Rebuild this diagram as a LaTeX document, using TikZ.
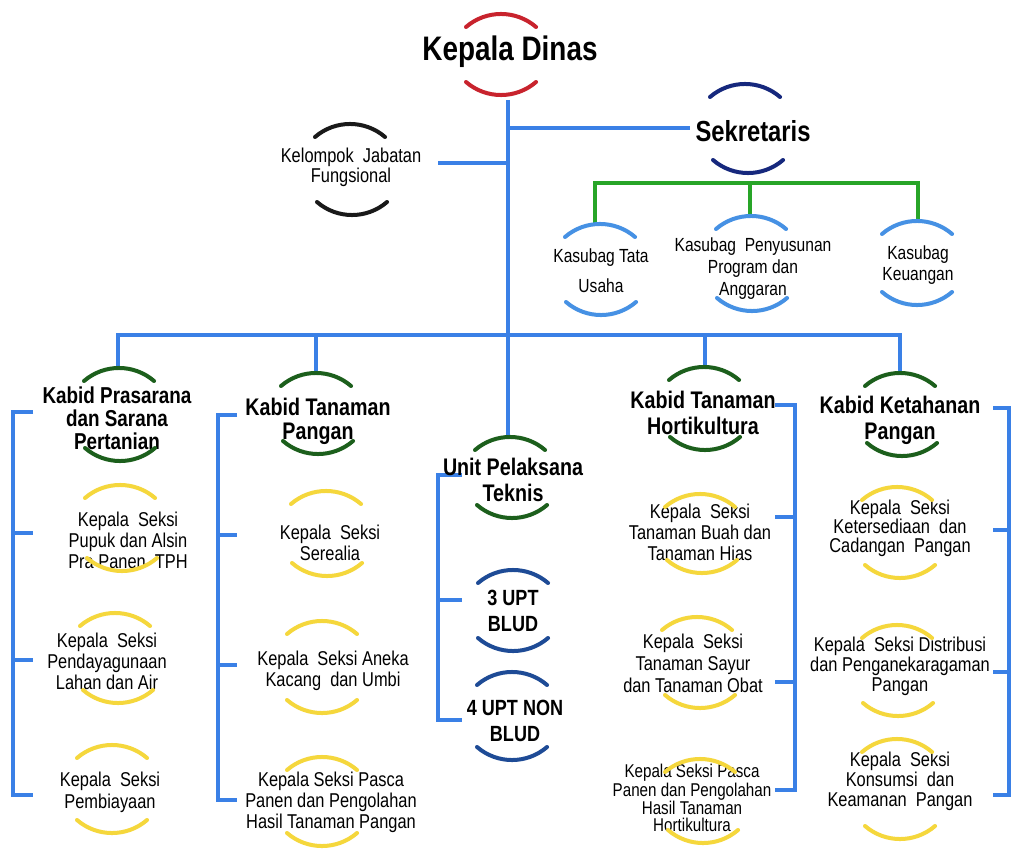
\documentclass[tikz,border=0pt]{standalone}
\usepackage{fontspec}
\setmainfont{Liberation Sans}[FakeStretch=0.82]
\definecolor{linkblue}{RGB}{58,128,230}
\definecolor{linkgreen}{RGB}{40,165,40}
\definecolor{arcred}{RGB}{200,35,45}
\definecolor{arcnavy}{RGB}{22,40,125}
\definecolor{arcblack}{RGB}{25,25,25}
\definecolor{arclight}{RGB}{70,145,228}
\definecolor{arcgreen}{RGB}{28,95,28}
\definecolor{arcyellow}{RGB}{245,215,60}
\definecolor{arcupt}{RGB}{30,75,150}
\tikzset{
  ctop/.pic={\draw[pic actions, line width=4pt, line cap=round] (-35,0) arc[start angle=229.2, end angle=310.8, radius=53.6];},
  cbot/.pic={\draw[pic actions, line width=4pt, line cap=round] (-35,0) arc[start angle=130.8, end angle=49.2, radius=53.6];},
  link/.style={draw=linkblue, line width=4pt},
  glink/.style={draw=linkgreen, line width=4pt},
  bigtitle/.style={font=\bfseries\fontsize{34}{36}\selectfont, inner sep=0pt},
  midtitle/.style={font=\bfseries\fontsize{29}{31}\selectfont, inner sep=0pt},
  head/.style={font=\bfseries\fontsize{24}{#1}\selectfont, align=center, inner sep=0pt},
  head/.default=25,
  sub/.style={font=\fontsize{20}{#1}\selectfont, align=center, inner sep=0pt},
  sub/.default=21,
  small/.style={font=\fontsize{19}{#1}\selectfont, align=center, inner sep=0pt},
  small/.default=20,
  wide/.style={font=\fontsize{20}{#1}\selectfont, align=center, inner sep=0pt},
  upt/.style={font=\bfseries\fontsize{22}{26}\selectfont, align=center, inner sep=0pt},
}
\begin{document}
\begin{tikzpicture}[x=1pt,y=-1pt]
\useasboundingbox (0,0) rectangle (1011,850);
\fill[white] (0,0) rectangle (1011,850);

% ---------- connectors ----------
\coordinate (kdb) at (508,100);
\coordinate (uptt) at (508,437);
\coordinate (sekw) at (690,128);
\coordinate (kjfe) at (438,163);
\coordinate (bar) at (0,335);
\coordinate (k1t) at (118,368);
\coordinate (k2t) at (316,373);
\coordinate (k4t) at (705,368);
\coordinate (k5t) at (900,373);
\draw[link] (kdb) -- (uptt);
\draw[link] (kdb |- sekw) -- (sekw);
\draw[link] (kjfe) -- (kjfe -| kdb);
\draw[link] (k1t) |- (bar -| k5t) -- (k5t);
\draw[link] (k2t) -- (k2t |- bar);
\draw[link] (k4t) -- (k4t |- bar);

\coordinate (gbar) at (0,183);
\coordinate (gt1) at (595,224);
\coordinate (gt2) at (750,216);
\coordinate (gt3) at (918,221);
\draw[glink] (gt1) |- (gbar -| gt3) -- (gt3);
\draw[glink] (gt2) -- (gt2 |- gbar);

% brackets
\draw[link] (33,412) -- (13,412) -- (13,795) -- (33,795);
\draw[link] (13,533) -- (33,533);
\draw[link] (13,660) -- (33,660);

\draw[link] (237,415) -- (218,415) -- (218,800) -- (237,800);
\draw[link] (218,535) -- (237,535);
\draw[link] (218,665) -- (237,665);

\draw[link] (462,475) -- (438,475) -- (438,720) -- (462,720);
\draw[link] (438,600) -- (462,600);

\draw[link] (775,405) -- (795,405) -- (795,790) -- (775,790);
\draw[link] (795,517) -- (775,517);
\draw[link] (795,682) -- (775,682);

\draw[link] (993,408) -- (1009,408) -- (1009,795) -- (993,795);
\draw[link] (1009,530) -- (993,530);
\draw[link] (1009,672) -- (993,672);

% ---------- top ----------
\node[bigtitle] (kd) at (510,52) {Kepala Dinas};
\pic[draw=arcred] at (501,27) {ctop};
\pic[draw=arcred] at (501,82) {cbot};

\node[midtitle] (sek) at (753,131) {Sekretaris};
\pic[draw=arcnavy] at (745,97) {ctop};
\pic[draw=arcnavy] at (748,160) {cbot};

\node[sub=20] (kjf) at (351,167) {Kelompok\ \ Jabatan\\Fungsional};
\pic[draw=arcblack] at (350,137) {ctop};
\pic[draw=arcblack] at (352,202) {cbot};

\node[small=30] (kto) at (601,271) {Kasubag Tata\\Usaha};
\pic[draw=arclight] at (600,237) {ctop};
\pic[draw=arclight] at (601,302) {cbot};

\node[small=22] (kpp) at (753,269) {Kasubag\ \ Penyusunan\\Program dan\\Anggaran};
\pic[draw=arclight] at (751,229) {ctop};
\pic[draw=arclight] at (752,298) {cbot};

\node[small=21] (kk) at (918,265) {Kasubag\\Keuangan};
\pic[draw=arclight] at (917,234) {ctop};
\pic[draw=arclight] at (917,292) {cbot};

% ---------- column 1 ----------
\node[font=\bfseries\fontsize{23}{23}\selectfont, align=center, inner sep=0pt] (k1) at (117,418) {Kabid Prasarana\\dan Sarana\\Pertanian};
\pic[draw=arcgreen] at (119,381) {ctop};
\pic[draw=arcgreen] at (120,448) {cbot};

\node[sub] (s11) at (128,540) {Kepala\ \ Seksi\\Pupuk dan Alsin\\Pra Panen\ \ TPH};
\pic[draw=arcyellow] at (120,498) {ctop};
\pic[draw=arcyellow] at (122,558) {cbot};

\node[sub] (s12) at (107,661) {Kepala\ \ Seksi\\Pendayagunaan\\Lahan dan Air};
\pic[draw=arcyellow] at (115,626) {ctop};
\pic[draw=arcyellow] at (118,690) {cbot};

\node[sub=22] (s13) at (110,792) {Kepala\ \ Seksi\\Pembiayaan};
\pic[draw=arcyellow] at (112,758) {ctop};
\pic[draw=arcyellow] at (112,820) {cbot};

% ---------- column 2 ----------
\node[head=24] (k2) at (318,421) {Kabid Tanaman\\Pangan};
\pic[draw=arcgreen] at (316,386) {ctop};
\pic[draw=arcgreen] at (318,441) {cbot};

\node[sub] (s21) at (330,543) {Kepala\ \ Seksi\\Serealia};
\pic[draw=arcyellow] at (326,504) {ctop};
\pic[draw=arcyellow] at (327,563) {cbot};

\node[sub] (s22) at (333,671) {Kepala\ \ Seksi\ Aneka\\Kacang\ \ dan\ Umbi};
\pic[draw=arcyellow] at (322,634) {ctop};
\pic[draw=arcyellow] at (322,700) {cbot};

\node[sub] (s23) at (331,802) {Kepala Seksi Pasca\\Panen dan Pengolahan\\Hasil Tanaman Pangan};
\pic[draw=arcyellow] at (322,770) {ctop};
\pic[draw=arcyellow] at (322,833) {cbot};

% ---------- column 3 ----------
\node[head=26] (upt) at (513,480) {Unit Pelaksana\\Teknis};
\pic[draw=arcgreen] at (510,450) {ctop};
\pic[draw=arcgreen] at (512,505) {cbot};

\node[upt] (b3) at (513,611) {3 UPT\\BLUD};
\pic[draw=arcupt] at (513,583) {ctop};
\pic[draw=arcupt] at (513,638) {cbot};

\node[upt] (b4) at (515,721) {4 UPT NON\\BLUD};
\pic[draw=arcupt] at (512,685) {ctop};
\pic[draw=arcupt] at (512,747) {cbot};

% ---------- column 4 ----------
\node[head=26] (k4) at (703,413) {Kabid Tanaman\\Hortikultura};
\pic[draw=arcgreen] at (704,380) {ctop};
\pic[draw=arcgreen] at (705,437) {cbot};

\node[sub] (s41) at (700,532) {Kepala\ \ Seksi\\Tanaman Buah dan\\Tanaman Hias};
\pic[draw=arcyellow] at (700,507) {ctop};
\pic[draw=arcyellow] at (702,560) {cbot};

\node[sub=22] (s42) at (693,663) {Kepala\ \ Seksi\\Tanaman Sayur\\dan Tanaman Obat};
\pic[draw=arcyellow] at (697,630) {ctop};
\pic[draw=arcyellow] at (700,695) {cbot};

\node[font=\fontsize{18.5}{17}\selectfont, align=center, inner sep=0pt] (s43) at (692,798) {Kepala Seksi Pasca\\Panen dan Pengolahan\\Hasil Tanaman\\Hortikultura};
\pic[draw=arcyellow] at (700,772) {ctop};
\pic[draw=arcyellow] at (703,830) {cbot};

% ---------- column 5 ----------
\node[head=26] (k5) at (900,420) {Kabid Ketahanan\\Pangan};
\pic[draw=arcgreen] at (900,386) {ctop};
\pic[draw=arcgreen] at (902,443) {cbot};

\node[wide=19] (s51) at (900,528) {Kepala\ \ Seksi\\Ketersediaan\ \ dan\\Cadangan\ \ Pangan};
\pic[draw=arcyellow] at (897,500) {ctop};
\pic[draw=arcyellow] at (900,565) {cbot};

\node[wide=20] (s52) at (900,666) {Kepala\ \ Seksi Distribusi\\dan Penganekaragaman\\Pangan};
\pic[draw=arcyellow] at (897,638) {ctop};
\pic[draw=arcyellow] at (898,703) {cbot};

\node[wide=20] (s53) at (900,781) {Kepala\ \ Seksi\\Konsumsi\ \ dan\\Keamanan\ \ Pangan};
\pic[draw=arcyellow] at (897,752) {ctop};
\pic[draw=arcyellow] at (900,826) {cbot};
\end{tikzpicture}
\end{document}
